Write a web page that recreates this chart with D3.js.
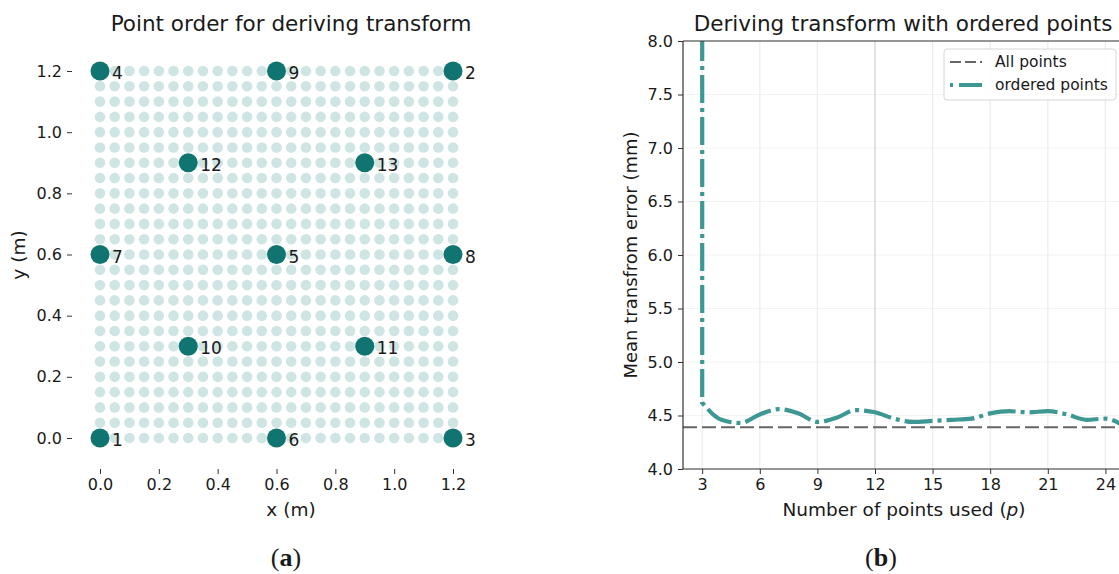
<!DOCTYPE html>
<html>
<head>
<meta charset="utf-8">
<script src="https://cdn.jsdelivr.net/npm/d3@7"></script>
<style>
  body { margin: 0; background: #fff; }
  text { font-family: "DejaVu Sans", sans-serif; fill: #1a1a1a; }
</style>
</head>
<body>
<div id="vis"></div>
<script>
// ---- data ----
// background lattice, metres
var gridValues = [0, 0.05, 0.1, 0.15, 0.2, 0.25, 0.3, 0.35, 0.4, 0.45, 0.5, 0.55, 0.6,
                  0.65, 0.7, 0.75, 0.8, 0.85, 0.9, 0.95, 1.0, 1.05, 1.1, 1.15, 1.2];
// order in which points are used
var orderLabels = [1, 2, 3, 4, 5, 6, 7, 8, 9, 10, 11, 12, 13];
var orderX = [0, 1.2, 1.2, 0, 0.6, 0.6, 0, 1.2, 0.6, 0.3, 0.9, 0.3, 0.9];
var orderY = [0, 1.2, 0, 1.2, 0.6, 0, 0.6, 0.6, 1.2, 0.3, 0.3, 0.9, 0.9];
var axisTicksA = [0, 0.2, 0.4, 0.6, 0.8, 1.0, 1.2];

// right plot (p=3 starts off the top of the chart)
var pointsUsed = [3, 3, 4, 5, 6, 7, 8, 9, 10, 11, 12, 13, 14, 15, 16, 17, 18, 19, 20, 21, 22, 23, 24, 25];
var meanError = [12.0, 4.62, 4.46, 4.43, 4.51, 4.56, 4.52, 4.44, 4.48, 4.55, 4.53, 4.47, 4.44,
                 4.45, 4.46, 4.47, 4.52, 4.54, 4.53, 4.54, 4.51, 4.46, 4.47, 4.40];
var allPointsError = 4.39;
var xTicksB = [3, 6, 9, 12, 15, 18, 21, 24];
var yTicksB = [4.0, 4.5, 5.0, 5.5, 6.0, 6.5, 7.0, 7.5, 8.0];
var legendNames = ["All points", "ordered points"];

var width = 1119, height = 574;
var teal = "#107571", lightTeal = "#cfe5e4", lineTeal = "#3d9893";

var svg = d3.select("#vis").append("svg")
    .attr("width", width)
    .attr("height", height);

// ================= (a) =================
var xA = d3.scaleLinear().domain([0, 1.2]).range([100, 453]);
var yA = d3.scaleLinear().domain([0, 1.2]).range([438, 71]);

var gA = svg.append("g");

var lattice = [];
gridValues.forEach(function(gx) {
  gridValues.forEach(function(gy) { lattice.push({x: gx, y: gy}); });
});

gA.selectAll(".dot")
    .data(lattice)
  .enter().append("circle")
  .attr("class", "dot")
  .attr("cx", function(d) { return xA(d.x); })
  .attr("cy", function(d) { return yA(d.y); })
  .attr("r", 5.3)
  .attr("fill", lightTeal);

var ordered = orderLabels.map(function(l, i) { return {label: l, x: orderX[i], y: orderY[i]}; });

gA.selectAll(".big")
    .data(ordered)
  .enter().append("circle")
  .attr("class", "big")
  .attr("cx", function(d) { return xA(d.x); })
  .attr("cy", function(d) { return yA(d.y); })
  .attr("r", 9.5)
  .attr("fill", teal);

gA.selectAll(".num")
    .data(ordered)
  .enter().append("text")
  .attr("class", "num")
  .attr("x", function(d) { return xA(d.x) + 12; })
  .attr("y", function(d) { return yA(d.y) + 8; })
  .style("font-size", "17px")
  .text(function(d) { return d.label; });

// axes, no spines
var axA_x = gA.append("g")
    .attr("transform", "translate(0,469)")
    .call(d3.axisBottom(xA).tickValues(axisTicksA).tickFormat(d3.format(".1f")).tickSize(5).tickPadding(5));
var axA_y = gA.append("g")
    .attr("transform", "translate(72,0)")
    .call(d3.axisLeft(yA).tickValues(axisTicksA).tickFormat(d3.format(".1f")).tickSize(5).tickPadding(5));
[axA_x, axA_y].forEach(function(a) {
  a.select(".domain").remove();
  a.selectAll("text").style("font-size", "16px").style("font-family", "DejaVu Sans").attr("fill", "#1a1a1a");
  a.selectAll("line").attr("stroke", "#333");
});

gA.append("text")
  .attr("x", 291).attr("y", 31)
  .attr("text-anchor", "middle")
  .style("font-size", "21.5px")
  .text("Point order for deriving transform");
gA.append("text")
  .attr("x", 291).attr("y", 516)
  .attr("text-anchor", "middle")
  .style("font-size", "18.5px")
  .text("x (m)");
gA.append("text")
  .attr("transform", "translate(25,255) rotate(-90)")
  .attr("text-anchor", "middle")
  .style("font-size", "18.5px")
  .text("y (m)");

// ================= (b) =================
var xB = d3.scaleLinear().domain([2, 26]).range([683, 1143.8]);
var yB = d3.scaleLinear().domain([4, 8]).range([469, 41]);

var gB = svg.append("g");

// grid
gB.selectAll(".hgrid")
    .data(yTicksB)
  .enter().append("line")
  .attr("x1", 683).attr("x2", width)
  .attr("y1", function(d) { return yB(d); })
  .attr("y2", function(d) { return yB(d); })
  .attr("stroke", "#f2f2f2");
gB.selectAll(".vgrid")
    .data(xTicksB)
  .enter().append("line")
  .attr("x1", function(d) { return xB(d); })
  .attr("x2", function(d) { return xB(d); })
  .attr("y1", 41).attr("y2", 469)
  .attr("stroke", function(d) { return d == 12 ? "#cfcfcf" : "#ebebeb"; })
  .attr("stroke-width", 1.2);

svg.append("clipPath").attr("id", "clipB")
  .append("rect").attr("x", 683).attr("y", 41).attr("width", 470).attr("height", 428);

// all points reference
gB.append("line")
  .attr("x1", 683).attr("x2", width)
  .attr("y1", yB(allPointsError)).attr("y2", yB(allPointsError))
  .attr("stroke", "#666")
  .attr("stroke-width", 2.2)
  .attr("stroke-dasharray", "14,5");

var series = pointsUsed.map(function(p, i) { return {p: p, v: meanError[i]}; });
var lineStraight = d3.line()
  .x(function(d) { return xB(d.p); })
  .y(function(d) { return yB(d.v); });
var lineSmooth = d3.line()
  .x(function(d) { return xB(d.p); })
  .y(function(d) { return yB(d.v); })
  .curve(d3.curveMonotoneX);

// vertical drop at p=3 then the smooth run
var dPath = lineStraight(series.slice(0, 2)) + lineSmooth(series.slice(1)).replace(/^M[^A-Z]*/, "");

gB.append("path")
  .attr("clip-path", "url(#clipB)")
  .attr("d", dPath)
  .attr("fill", "none")
  .attr("stroke", lineTeal)
  .attr("stroke-width", 4.2)
  .attr("stroke-dasharray", "28,5,4,5");

// axes
var axB_x = gB.append("g")
    .attr("transform", "translate(0,469)")
    .call(d3.axisBottom(xB).tickValues(xTicksB).tickSize(5).tickPadding(5));
var axB_y = gB.append("g")
    .attr("transform", "translate(683,0)")
    .call(d3.axisLeft(yB).tickValues(yTicksB).tickFormat(d3.format(".1f")).tickSize(5).tickPadding(5));
[axB_x, axB_y].forEach(function(a) {
  a.select(".domain").remove();
  a.selectAll("text").style("font-size", "16px").style("font-family", "DejaVu Sans").attr("fill", "#1a1a1a");
  a.selectAll("line").attr("stroke", "#333");
});
// spines
gB.append("line").attr("x1", 683).attr("x2", 683).attr("y1", 41).attr("y2", 469).attr("stroke", "#333").attr("stroke-width", 1.2);
gB.append("line").attr("x1", 683).attr("x2", width).attr("y1", 469).attr("y2", 469).attr("stroke", "#333").attr("stroke-width", 1.2);
gB.append("line").attr("x1", 683).attr("x2", width).attr("y1", 41).attr("y2", 41).attr("stroke", "#333").attr("stroke-width", 1.2);

// legend
var leg = gB.append("g");
leg.append("rect")
  .attr("x", 944).attr("y", 49).attr("width", 172).attr("height", 51)
  .attr("rx", 3).attr("fill", "#fff").attr("fill-opacity", 0.85)
  .attr("stroke", "#d6d6d6");
leg.selectAll(".legLine")
    .data(legendNames)
  .enter().append("line")
  .attr("x1", 950).attr("x2", 982)
  .attr("y1", function(d, i) { return 62 + i * 23; })
  .attr("y2", function(d, i) { return 62 + i * 23; })
  .attr("stroke", function(d, i) { return i == 0 ? "#666" : lineTeal; })
  .attr("stroke-width", function(d, i) { return i == 0 ? 2 : 4.2; })
  .attr("stroke-dasharray", function(d, i) { return i == 0 ? "11,4" : "3,6,30"; });
leg.selectAll(".legText")
    .data(legendNames)
  .enter().append("text")
  .attr("x", 995)
  .attr("y", function(d, i) { return 67 + i * 23; })
  .style("font-size", "15.5px")
  .text(function(d) { return d; });

gB.append("text")
  .attr("x", 903).attr("y", 31)
  .attr("text-anchor", "middle")
  .style("font-size", "21.5px")
  .text("Deriving transform with ordered points");
var xl = gB.append("text")
  .attr("x", 904).attr("y", 516)
  .attr("text-anchor", "middle")
  .style("font-size", "18.5px");
xl.append("tspan").text("Number of points used (");
xl.append("tspan").style("font-style", "italic").text("p");
xl.append("tspan").text(")");
gB.append("text")
  .attr("transform", "translate(637,255) rotate(-90)")
  .attr("text-anchor", "middle")
  .style("font-size", "18px")
  .text("Mean transfrom error (mm)");

// panel captions
[{x: 286, l: "a"}, {x: 881, l: "b"}].forEach(function(c) {
  var t = svg.append("text")
    .attr("x", c.x).attr("y", 566)
    .attr("text-anchor", "middle")
    .style("font-family", "Liberation Serif, DejaVu Serif, serif")
    .style("font-size", "26px");
  t.append("tspan").text("(");
  t.append("tspan").style("font-weight", "bold").text(c.l);
  t.append("tspan").text(")");
});
</script>
</body>
</html>
